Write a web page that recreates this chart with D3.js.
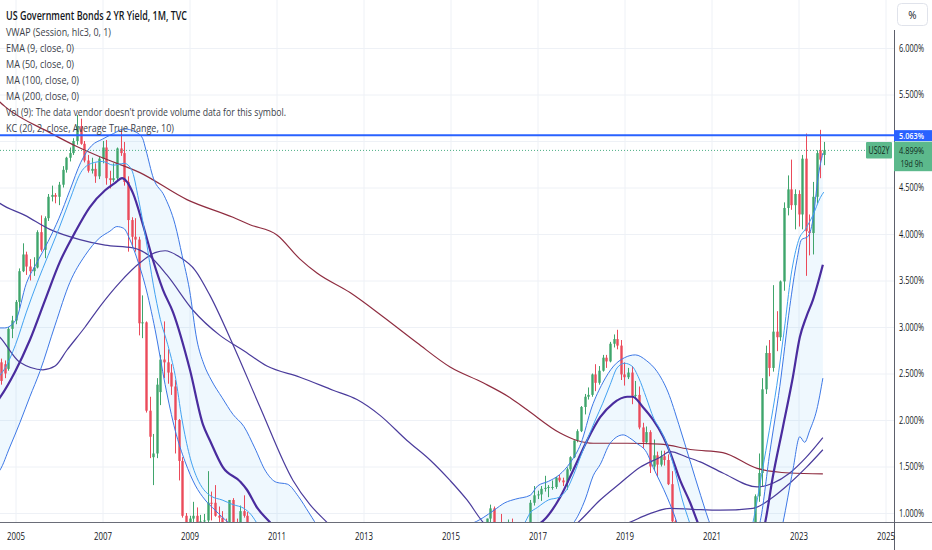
<!DOCTYPE html>
<html><head><meta charset="utf-8">
<script src="https://cdn.jsdelivr.net/npm/d3@7"></script>
<style>
html,body{margin:0;padding:0;background:#fff;overflow:hidden;}
svg{display:block;font-family:"Open Sans","Noto Sans",sans-serif;}
</style>
</head><body>
<svg id="chart" width="932" height="550"></svg>
<script>
// ---------------- DATA ----------------
const startYear = 2004, startMonth = 7; // first candle: Jul 2004, monthly
const opens = [
 2.70,2.68,2.62,2.60,2.55,2.98,
 3.07,3.27,3.60,3.78,3.65,3.60,3.64,4.02,3.83,4.17,4.40,4.42,
 4.40,4.53,4.69,4.82,4.87,5.00,5.16,4.97,4.79,4.68,4.70,4.62,
 4.81,4.93,4.60,4.58,4.60,4.92,4.87,4.56,4.15,3.97,3.94,3.04,
 3.05,2.10,1.60,1.64,2.30,2.65,2.62,2.51,2.36,2.00,1.56,0.97,
 0.77,0.94,0.97,0.80,0.91,0.92,1.11,1.11,0.97,0.95,0.90,0.67,
 1.14,0.82,0.81,1.02,0.97,0.76,0.61,0.55,0.47,0.42,0.34,0.45,
 0.60,0.57,0.69,0.80,0.61,0.45,0.46,0.36,0.20,0.25,0.24,0.25,
 0.24,0.22,0.30,0.33,0.27,0.27,0.30,0.23,0.23,0.23,0.28,0.25,
 0.25,0.26,0.25,0.24,0.21,0.30,0.36,0.31,0.39,0.32,0.31,0.28,
 0.38,0.34,0.32,0.42,0.42,0.37,0.46,0.53,0.48,0.57,0.50,0.47,
 0.66,0.45,0.62,0.56,0.57,0.61,0.64,0.67,0.74,0.64,0.72,0.94,
 1.05,0.78,0.78,0.73,0.78,0.87,0.58,0.66,0.81,0.76,0.84,1.11,
 1.19,1.20,1.26,1.27,1.28,1.28,1.38,1.35,1.33,1.47,1.60,1.78,
 1.88,2.14,2.25,2.27,2.49,2.40,2.53,2.67,2.63,2.82,2.87,2.80,
 2.49,2.46,2.51,2.26,2.27,1.92,1.76,1.87,1.50,1.62,1.52,1.61,
 1.57,1.31,0.91,0.25,0.20,0.16,0.15,0.11,0.13,0.13,0.15,0.15,
 0.12,0.11,0.13,0.16,0.16,0.14,0.25,0.19,0.21,0.28,0.50,0.57,
 0.73,1.18,1.43,2.33,2.72,2.56,2.95,2.89,3.49,4.28,4.48,4.31,
 4.43,4.21,4.81,4.03,4.01,4.40,4.90,4.85
];
const highs = [
 2.79,2.72,2.66,2.64,3.00,3.12,
 3.29,3.63,3.90,3.81,3.73,3.75,4.04,4.20,4.19,4.43,4.52,4.44,
 4.56,4.73,4.83,4.93,5.03,5.28,5.24,5.00,4.85,4.82,4.76,4.83,
 5.00,5.01,4.68,4.76,4.93,5.12,4.99,4.62,4.18,4.17,3.97,3.34,
 3.06,2.25,1.85,2.45,2.70,3.06,2.76,2.60,2.43,2.01,1.60,1.00,
 0.97,1.12,1.06,0.98,0.99,1.45,1.23,1.30,1.07,1.02,0.94,1.14,
 1.16,0.94,1.08,1.19,1.01,0.82,0.66,0.58,0.53,0.44,0.55,0.73,
 0.63,0.87,0.84,0.83,0.63,0.48,0.47,0.38,0.25,0.33,0.29,0.29,
 0.27,0.31,0.41,0.36,0.30,0.33,0.31,0.31,0.29,0.31,0.29,0.28,
 0.28,0.28,0.27,0.25,0.31,0.43,0.40,0.44,0.53,0.36,0.33,0.41,
 0.43,0.36,0.47,0.46,0.44,0.53,0.55,0.55,0.60,0.59,0.57,0.75,
 0.70,0.73,0.74,0.60,0.66,0.74,0.74,0.75,0.82,0.76,0.94,1.09,
 1.07,0.81,0.99,0.84,0.93,0.94,0.76,0.85,0.87,0.87,1.14,1.29,
 1.24,1.29,1.40,1.30,1.35,1.39,1.41,1.38,1.49,1.61,1.78,1.90,
 2.15,2.28,2.35,2.50,2.60,2.58,2.70,2.70,2.84,2.92,2.97,2.86,
 2.62,2.56,2.58,2.42,2.36,1.97,1.93,1.89,1.79,1.66,1.67,1.67,
 1.63,1.45,0.93,0.35,0.22,0.24,0.17,0.17,0.15,0.17,0.20,0.16,
 0.14,0.18,0.18,0.19,0.17,0.29,0.27,0.25,0.30,0.52,0.67,0.76,
 1.20,1.64,2.45,2.80,2.86,3.45,3.17,3.50,4.34,4.63,4.80,4.48,
 4.47,4.85,5.08,4.21,4.56,4.90,5.12,4.99
];
const lows = [
 2.51,2.34,2.38,2.45,2.53,2.88,
 3.03,3.20,3.59,3.56,3.50,3.55,3.63,3.81,3.74,4.14,4.35,4.33,
 4.31,4.50,4.66,4.78,4.85,4.96,4.96,4.77,4.66,4.65,4.55,4.59,
 4.76,4.53,4.49,4.56,4.58,4.84,4.52,3.81,3.85,3.81,2.91,2.88,
 2.08,1.59,1.30,1.59,2.16,2.45,2.39,2.27,1.64,1.35,0.95,0.64,
 0.70,0.88,0.76,0.78,0.81,0.88,0.92,0.96,0.90,0.83,0.66,0.65,
 0.81,0.78,0.80,0.95,0.70,0.60,0.54,0.46,0.41,0.32,0.33,0.43,
 0.53,0.55,0.56,0.60,0.44,0.34,0.33,0.16,0.16,0.21,0.22,0.22,
 0.21,0.22,0.28,0.25,0.25,0.26,0.20,0.22,0.22,0.23,0.24,0.23,
 0.24,0.23,0.23,0.20,0.20,0.27,0.29,0.30,0.31,0.29,0.27,0.28,
 0.31,0.29,0.31,0.38,0.35,0.36,0.43,0.39,0.47,0.31,0.46,0.47,
 0.44,0.45,0.53,0.48,0.53,0.59,0.62,0.55,0.63,0.55,0.71,0.87,
 0.77,0.64,0.72,0.70,0.73,0.55,0.55,0.64,0.71,0.75,0.76,1.08,
 1.15,1.13,1.23,1.17,1.25,1.26,1.33,1.29,1.25,1.45,1.59,1.76,
 1.87,2.06,2.22,2.25,2.31,2.38,2.52,2.56,2.62,2.78,2.76,2.43,
 2.37,2.44,2.17,2.22,1.90,1.70,1.74,1.43,1.46,1.39,1.50,1.51,
 1.30,0.86,0.21,0.19,0.14,0.15,0.10,0.11,0.12,0.12,0.14,0.10,
 0.10,0.10,0.11,0.15,0.13,0.14,0.17,0.18,0.19,0.27,0.44,0.56,
 0.72,1.12,1.29,2.28,2.47,2.52,2.74,2.85,3.39,4.20,4.26,4.05,
 4.08,4.05,3.55,3.77,3.78,4.33,4.60,4.74
];
const closes = [
 2.68,2.38,2.42,2.50,2.98,3.07,
 3.27,3.60,3.78,3.65,3.60,3.64,4.02,3.83,4.17,4.40,4.42,4.40,
 4.53,4.69,4.82,4.87,5.00,5.16,4.97,4.79,4.68,4.70,4.62,4.81,
 4.93,4.60,4.58,4.60,4.92,4.87,4.56,4.15,3.97,3.94,3.04,3.05,
 2.10,1.82,1.64,2.38,2.65,2.62,2.51,2.36,2.00,1.56,0.97,0.77,
 0.94,0.97,0.80,0.91,0.92,1.11,1.10,0.97,0.95,0.90,0.67,1.14,
 0.82,0.81,1.02,0.97,0.76,0.61,0.55,0.47,0.42,0.34,0.45,0.60,
 0.57,0.69,0.80,0.61,0.45,0.46,0.36,0.20,0.25,0.24,0.25,0.24,
 0.22,0.30,0.33,0.27,0.27,0.30,0.23,0.23,0.23,0.28,0.25,0.25,
 0.26,0.25,0.24,0.21,0.30,0.36,0.31,0.39,0.32,0.31,0.28,0.38,
 0.34,0.32,0.42,0.42,0.37,0.46,0.53,0.48,0.57,0.50,0.47,0.66,
 0.45,0.62,0.56,0.57,0.61,0.64,0.67,0.74,0.64,0.72,0.94,1.05,
 0.78,0.78,0.73,0.78,0.87,0.58,0.66,0.81,0.76,0.84,1.11,1.19,
 1.20,1.26,1.27,1.28,1.28,1.38,1.35,1.33,1.47,1.60,1.78,1.88,
 2.14,2.25,2.27,2.49,2.40,2.53,2.67,2.63,2.82,2.87,2.80,2.49,
 2.46,2.51,2.26,2.27,1.92,1.76,1.87,1.50,1.62,1.52,1.61,1.57,
 1.31,0.91,0.25,0.20,0.16,0.15,0.11,0.13,0.13,0.15,0.15,0.12,
 0.11,0.13,0.16,0.16,0.14,0.25,0.19,0.21,0.28,0.50,0.57,0.73,
 1.18,1.43,2.33,2.72,2.56,2.95,2.89,3.49,4.28,4.48,4.31,4.43,
 4.21,4.81,4.03,4.01,4.40,4.87,4.80,4.899
];

// indicator lines: [decimal year, yield %]
const ema9 = [[2004.5,2.40],[2004.64,2.48],[2004.75,2.55],[2005.0,2.81],[2005.25,3.16],[2005.5,3.48],[2005.75,3.77],[2006.0,4.06],[2006.25,4.37],[2006.5,4.66],[2006.75,4.76],[2007.0,4.78],[2007.25,4.74],[2007.5,4.76],[2007.67,4.69],[2007.83,4.37],[2008.0,3.94],[2008.17,3.45],[2008.33,3.08],[2008.5,2.81],[2008.67,2.48],[2008.83,2.0],[2009.0,1.62],[2009.17,1.38],[2009.33,1.25],[2009.5,1.18],[2009.75,1.14],[2010.0,1.09],[2010.25,1.05],[2010.42,0.98],[2010.58,0.87],[2011.0,0.65],[2012.0,0.30],[2014.0,0.40],[2015.5,0.62],[2016.0,0.80],[2016.5,0.82],[2016.7,0.89],[2016.83,1.0],[2017.0,1.06],[2017.25,1.14],[2017.5,1.17],[2017.67,1.25],[2017.83,1.41],[2018.0,1.62],[2018.17,1.82],[2018.33,2.0],[2018.5,2.18],[2018.67,2.38],[2018.83,2.56],[2019.0,2.61],[2019.17,2.58],[2019.33,2.45],[2019.5,2.24],[2019.67,2.02],[2019.83,1.89],[2020.0,1.71],[2020.17,1.44],[2020.33,1.14],[2020.5,0.89],[2020.75,0.50],[2021.5,0.20],[2021.95,0.89],[2022.17,1.46],[2022.33,1.89],[2022.5,2.37],[2022.67,2.96],[2022.83,3.56],[2023.0,3.93],[2023.17,4.06],[2023.33,4.20],[2023.5,4.39],[2023.58,4.45]];

const kcUpper = [[2004.5,2.99],[2004.75,2.99],[2005.0,3.07],[2005.25,3.47],[2005.5,3.70],[2005.75,3.92],[2006.0,4.17],[2006.25,4.47],[2006.5,4.77],[2006.75,4.95],[2007.0,5.02],[2007.25,5.08],[2007.5,5.13],[2007.75,5.10],[2007.92,5.03],[2008.0,4.90],[2008.17,4.60],[2008.42,4.41],[2008.67,4.10],[2008.83,3.77],[2009.0,3.40],[2009.17,2.86],[2009.33,2.60],[2009.5,2.43],[2009.75,2.24],[2010.0,2.06],[2010.25,1.93],[2010.5,1.70],[2010.75,1.45],[2011.0,1.33],[2011.25,1.31],[2011.5,1.18],[2011.75,1.00],[2012.0,0.82],[2012.5,0.62],[2013.5,0.55],[2014.5,0.70],[2015.0,0.80],[2015.4,0.87],[2015.6,0.91],[2015.75,0.95],[2016.0,1.03],[2016.25,1.11],[2016.5,1.15],[2016.83,1.19],[2017.0,1.29],[2017.25,1.34],[2017.5,1.41],[2017.75,1.54],[2018.0,1.75],[2018.25,2.14],[2018.5,2.40],[2018.75,2.58],[2019.0,2.67],[2019.25,2.70],[2019.5,2.64],[2019.75,2.52],[2020.0,2.30],[2020.25,1.95],[2020.5,1.57],[2020.75,1.19],[2021.0,0.84],[2021.5,0.50],[2022.0,0.75],[2022.11,0.89],[2022.34,1.65],[2022.57,2.36],[2022.80,3.22],[2022.96,3.71],[2023.07,3.94],[2023.21,3.97],[2023.33,4.15],[2023.45,4.61],[2023.56,4.87]];

const kcLower = [[2004.5,1.40],[2004.64,1.46],[2004.87,1.71],[2005.10,1.97],[2005.33,2.25],[2005.56,2.52],[2005.91,3.02],[2006.25,3.48],[2006.60,3.77],[2006.94,3.96],[2007.17,4.03],[2007.33,4.08],[2007.49,4.06],[2007.63,3.94],[2007.79,3.74],[2007.98,3.45],[2008.21,2.97],[2008.44,2.38],[2008.67,1.89],[2008.90,1.55],[2009.13,1.30],[2009.36,1.14],[2009.59,1.03],[2009.89,0.90],[2010.16,0.82],[2011.0,0.50],[2013.0,0.10],[2015.0,0.30],[2016.0,0.50],[2017.0,0.70],[2017.5,0.80],[2017.82,0.89],[2018.1,1.15],[2018.28,1.40],[2018.44,1.52],[2018.67,1.75],[2018.97,1.84],[2019.11,1.81],[2019.28,1.75],[2019.51,1.65],[2019.66,1.49],[2019.98,1.17],[2020.21,0.89],[2020.5,0.40],[2021.5,0.00],[2022.3,0.30],[2022.64,0.89],[2022.87,1.46],[2023.03,1.82],[2023.14,1.76],[2023.26,1.89],[2023.42,2.11],[2023.56,2.45]];

const kcBasis = [[2004.5,2.15],[2004.64,2.24],[2004.99,2.52],[2005.33,2.86],[2005.68,3.29],[2006.02,3.70],[2006.37,4.02],[2006.71,4.29],[2007.06,4.47],[2007.29,4.55],[2007.45,4.60],[2007.70,4.44],[2007.93,4.10],[2008.16,3.72],[2008.39,3.40],[2008.62,3.16],[2009.01,2.54],[2009.31,1.95],[2009.47,1.78],[2009.77,1.49],[2010.16,1.34],[2010.32,1.25],[2010.55,1.06],[2010.85,0.90],[2011.2,0.70],[2012.0,0.30],[2014.0,0.35],[2016.0,0.70],[2016.8,0.85],[2017.06,0.89],[2017.52,1.17],[2017.82,1.46],[2018.14,1.78],[2018.44,2.03],[2018.74,2.18],[2019.06,2.25],[2019.19,2.25],[2019.42,2.14],[2019.66,2.00],[2019.89,1.82],[2020.05,1.65],[2020.28,1.35],[2020.51,1.11],[2020.69,0.89],[2021.0,0.55],[2021.6,0.30],[2022.0,0.60],[2022.23,0.89],[2022.41,1.39],[2022.64,1.92],[2022.87,2.46],[2023.03,2.89],[2023.18,3.11],[2023.33,3.29],[2023.56,3.67]];

const ma50 = [[2004.5,2.95],[2004.64,2.89],[2005.10,2.62],[2005.63,2.54],[2005.91,2.58],[2006.18,2.75],[2006.60,3.00],[2006.94,3.22],[2007.40,3.48],[2007.86,3.69],[2008.21,3.80],[2008.44,3.82],[2008.78,3.75],[2009.13,3.61],[2009.47,3.34],[2010.00,2.81],[2010.62,2.14],[2011.38,1.35],[2011.77,1.09],[2012.16,0.90],[2012.6,0.70],[2014.0,0.30],[2016.0,0.45],[2017.5,0.75],[2017.91,0.89],[2018.44,1.14],[2018.90,1.32],[2019.35,1.49],[2019.82,1.60],[2020.05,1.66],[2020.44,1.60],[2020.74,1.55],[2021.26,1.43],[2022.05,1.28],[2022.41,1.32],[2022.80,1.43],[2023.18,1.60],[2023.56,1.81]];

const ma100 = [[2004.5,4.38],[2004.64,4.33],[2005.22,4.20],[2005.79,4.05],[2006.48,3.94],[2007.06,3.88],[2007.70,3.85],[2008.09,3.76],[2008.48,3.56],[2009.08,3.18],[2009.70,2.91],[2010.23,2.75],[2010.78,2.58],[2011.54,2.46],[2012.30,2.32],[2012.85,2.22],[2013.38,2.05],[2014.00,1.78],[2014.53,1.57],[2014.99,1.35],[2015.38,1.14],[2015.75,0.90],[2016.3,0.70],[2017.5,0.80],[2018.5,0.85],[2019.06,0.89],[2019.51,0.98],[2020.05,1.05],[2020.57,1.04],[2021.20,1.03],[2021.95,1.05],[2022.41,1.17],[2022.80,1.32],[2023.18,1.49],[2023.56,1.68]];

const ma200 = [[2004.5,5.50],[2004.64,5.42],[2004.76,5.37],[2005.79,5.09],[2006.41,4.94],[2006.94,4.83],[2007.86,4.66],[2008.94,4.37],[2010.00,4.18],[2010.39,4.10],[2011.01,3.99],[2011.54,3.73],[2011.93,3.58],[2012.69,3.37],[2013.45,3.11],[2014.23,2.83],[2014.99,2.57],[2015.75,2.40],[2016.37,2.24],[2016.76,2.11],[2017.52,1.86],[2017.91,1.78],[2018.28,1.75],[2019.06,1.75],[2019.82,1.74],[2020.57,1.68],[2021.26,1.65],[2022.05,1.48],[2022.80,1.43],[2023.56,1.42]];

const yearTicks = [2005,2007,2009,2011,2013,2015,2017,2019,2021,2023,2025];
const priceTicks = [1.0,1.5,2.0,2.5,3.0,3.5,4.0,4.5,5.0,5.5,6.0];      // grid lines
const priceLabelTicks = [1.0,1.5,2.0,2.5,3.0,3.5,4.0,4.5,5.5,6.0];    // 5.000% hidden behind price labels
const highLevel = 5.063, lastValue = 4.899;
const symbolName = "US02Y", countdown = "19d 9h";
const legendLines = [
 "US Government Bonds 2 YR Yield, 1M, TVC",
 "VWAP (Session, hlc3, 0, 1)",
 "EMA (9, close, 0)",
 "MA (50, close, 0)",
 "MA (100, close, 0)",
 "MA (200, close, 0)",
 "Vol (9): The data vendor doesn't provide volume data for this symbol.",
 "KC (20, 2, close, Average True Range, 10)"
];
const legendWidths = [181,105,68,68,73,73,280,168];

// ---------------- CHART ----------------
const W = 932, H = 550, plotR = 894, plotB = 522;
const svg = d3.select("#chart");
const x = d3.scaleLinear().domain([2005, 2025]).range([15.5, 885.5]);
const y = d3.scaleLinear().domain([1, 6]).range([513, 48]);

svg.append("defs").append("clipPath").attr("id","plot")
  .append("rect").attr("x",0).attr("y",0).attr("width",plotR).attr("height",plotB);

// grid
const gx = svg.append("g").attr("transform",`translate(0,${plotB})`)
  .call(d3.axisBottom(x).tickValues(yearTicks).tickSize(-plotB).tickFormat(""));
gx.select(".domain").remove();
gx.selectAll("line").attr("stroke","#eef1f6");
const gy = svg.append("g")
  .call(d3.axisRight(y).tickValues(priceTicks).tickSize(plotR).tickFormat(""));
gy.select(".domain").remove();
gy.selectAll("line").attr("stroke","#eef1f6");

const plot = svg.append("g").attr("clip-path","url(#plot)");

const line = d3.line().x(d=>x(d[0])).y(d=>y(d[1])).curve(d3.curveMonotoneX);

// KC fill
const upPath = line(kcUpper);
const loPath = line(kcLower.slice().reverse());
plot.append("path").attr("d", upPath + "L" + loPath.slice(1) + "Z")
  .attr("fill","rgba(33,150,243,0.07)").attr("stroke","none");

// candles
const candles = closes.map((c,i)=>({t:startYear+(startMonth-1+i)/12,o:opens[i],h:highs[i],l:lows[i],c}));
const up = "#3fa56c", dn = "#eb4a5a";
const cg = plot.append("g");
cg.selectAll("line").data(candles).join("line")
  .attr("x1",d=>Math.round(x(d.t))+0.5).attr("x2",d=>Math.round(x(d.t))+0.5)
  .attr("y1",d=>y(d.h)).attr("y2",d=>y(d.l))
  .attr("stroke",d=>d.c>=d.o?up:dn).attr("stroke-width",1);
cg.selectAll("rect").data(candles).join("rect")
  .attr("x",d=>Math.round(x(d.t))-0.7).attr("width",2.4)
  .attr("y",d=>y(Math.max(d.o,d.c)))
  .attr("height",d=>Math.max(1,Math.abs(y(d.o)-y(d.c))))
  .attr("fill",d=>d.c>=d.o?up:dn);

// indicator lines
const series = [
  {d:ma200, c:"#8f2d40", w:1.2},
  {d:ma100, c:"#4b3c9c", w:1.2},
  {d:ma50,  c:"#4b3c9c", w:1.2},
  {d:kcLower, c:"#3d78e6", w:1},
  {d:kcUpper, c:"#3d78e6", w:1},
  {d:kcBasis, c:"#4a2c9e", w:2.2},
  {d:ema9, c:"#42a2f2", w:1}
];
series.forEach(s=>{
  plot.append("path").attr("d",line(s.d)).attr("fill","none")
    .attr("stroke",s.c).attr("stroke-width",s.w).attr("stroke-linejoin","round");
});

// level lines
svg.append("line").attr("x1",0).attr("x2",plotR).attr("y1",y(highLevel)).attr("y2",y(highLevel))
  .attr("stroke","#2962ff").attr("stroke-width",2);
svg.append("line").attr("x1",0).attr("x2",866).attr("y1",y(lastValue)).attr("y2",y(lastValue))
  .attr("stroke","#4cae84").attr("stroke-width",1).attr("stroke-dasharray","1 2");

// legend text
const lg = svg.append("g");
legendLines.forEach((t,i)=>{
  lg.append("text").attr("x",6).attr("y",20+i*16.0)
    .attr("font-size", i===0?12:11.5).attr("font-weight", i===0?600:400)
    .attr("fill", i===0?"#131722":"#3c3f4a")
    .attr("textLength",legendWidths[i]).attr("lengthAdjust","spacingAndGlyphs")
    .text(t);
});

// axes lines
svg.append("line").attr("x1",0).attr("x2",W).attr("y1",plotB+0.5).attr("y2",plotB+0.5)
  .attr("stroke","#6a6d78").attr("stroke-width",1);
svg.append("line").attr("x1",plotR+0.5).attr("x2",plotR+0.5).attr("y1",30).attr("y2",H)
  .attr("stroke","#5d606b").attr("stroke-width",1);

// x axis labels
const xa = svg.append("g").attr("transform",`translate(0,${plotB})`)
  .call(d3.axisBottom(x).tickValues(yearTicks).tickSize(0).tickPadding(10).tickFormat(d3.format("d")));
xa.select(".domain").remove();
xa.selectAll("text").attr("font-size",11).attr("fill","#131722")
  .attr("font-family","Open Sans, sans-serif")
  .attr("textLength",18).attr("lengthAdjust","spacingAndGlyphs");

// y axis labels
const ya = svg.append("g").attr("transform",`translate(${plotR},0)`)
  .call(d3.axisRight(y).tickValues(priceLabelTicks).tickSize(0).tickPadding(5)
    .tickFormat(d=>d3.format(".3f")(d)+"%"));
ya.select(".domain").remove();
ya.selectAll("text").attr("font-size",10).attr("fill","#131722")
  .attr("font-family","Open Sans, sans-serif")
  .attr("textLength",25).attr("lengthAdjust","spacingAndGlyphs");

// price labels
const green = "#5cb98c";
svg.append("rect").attr("x",plotR).attr("y",y(highLevel)-5).attr("width",W-plotR).attr("height",11)
  .attr("fill","#2962ff");
svg.append("text").attr("x",899).attr("y",y(highLevel)+3.5).attr("font-size",9.5).attr("font-weight",600)
  .attr("fill","#fff").attr("textLength",25).attr("lengthAdjust","spacingAndGlyphs")
  .text(d3.format(".3f")(highLevel)+"%");
svg.append("rect").attr("x",plotR).attr("y",y(lastValue)-8.7).attr("width",W-plotR).attr("height",29.5)
  .attr("fill",green);
svg.append("text").attr("x",899).attr("y",y(lastValue)+4).attr("font-size",9.5)
  .attr("fill","#102a1d").attr("textLength",25).attr("lengthAdjust","spacingAndGlyphs")
  .text(d3.format(".3f")(lastValue)+"%");
svg.append("text").attr("x",900.5).attr("y",y(lastValue)+16.5).attr("font-size",9.5)
  .attr("fill","#102a1d").attr("textLength",22.5).attr("lengthAdjust","spacingAndGlyphs")
  .text(countdown);
svg.append("rect").attr("x",866).attr("y",y(lastValue)-8.4).attr("width",26).attr("height",16.5)
  .attr("fill",green).attr("rx",1);
svg.append("text").attr("x",868.5).attr("y",y(lastValue)+3.8).attr("font-size",10)
  .attr("fill","#102a1d").attr("textLength",21).attr("lengthAdjust","spacingAndGlyphs")
  .text(symbolName);

// % button
svg.append("rect").attr("x",897.5).attr("y",3.5).attr("width",30).attr("height",22).attr("rx",4)
  .attr("fill","#fff").attr("stroke","#e0e3eb");
svg.append("text").attr("x",912.5).attr("y",18.5).attr("text-anchor","middle")
  .attr("font-size",10).attr("fill","#131722").text("%");
</script>
</body></html>
